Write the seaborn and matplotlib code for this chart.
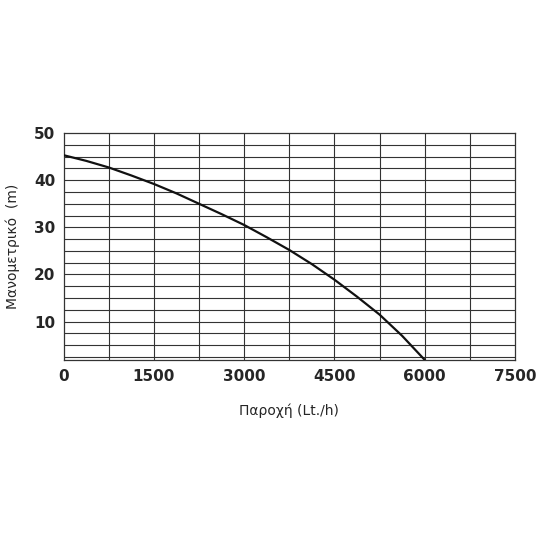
import matplotlib
matplotlib.use("Agg")
import matplotlib.pyplot as plt
import seaborn as sns
import pandas as pd
import numpy as np

flow = [0, 375, 750, 1125, 1500, 1875, 2250, 2625, 3000, 3375, 3750, 4125, 4500, 4875, 5250, 5625, 6000]
head = [45.3, 44.1, 42.7, 41.0, 39.2, 37.2, 35.0, 32.8, 30.5, 27.9, 25.2, 22.2, 18.9, 15.3, 11.5, 7.0, 1.9]
xticks = [0, 1500, 3000, 4500, 6000, 7500]
yticks = [10, 20, 30, 40, 50]

sns.set_style("white")
plt.rcParams['font.family'] = ['DejaVu Sans']
fig = plt.figure(figsize=(5.5, 5.5), dpi=100)
ax = fig.add_axes([0.116, 0.345, 0.82, 0.413])

for x in np.arange(750, 7500, 750):
    ax.axvline(x, color="#333333", lw=0.8, zorder=1)
for y in np.arange(2.5, 50, 2.5):
    ax.axhline(y, color="#333333", lw=0.8, zorder=1)

df = pd.DataFrame({"flow": flow, "head": head})
sns.lineplot(data=df, x="flow", y="head", ax=ax, color="#111111", lw=1.6, zorder=3)

ax.set_xlim(0, 7500)
ax.set_ylim(1.8, 50)
ax.set_xticks(xticks)
ax.set_yticks(yticks)
ax.set_xticklabels([str(v) for v in xticks], fontweight="bold", fontsize=11)
ax.set_yticklabels([str(v) for v in yticks], fontweight="bold", fontsize=11)
ax.tick_params(length=0, pad=6)
for s in ax.spines.values():
    s.set_color("#333333")
    s.set_linewidth(0.9)
ax.set_xlabel("Παροχή (Lt./h)", fontsize=10, labelpad=14)
ax.set_ylabel("Μανομετρικό  (m)", fontsize=10, labelpad=10)
fig.savefig("out.png", dpi=100, facecolor="white")
